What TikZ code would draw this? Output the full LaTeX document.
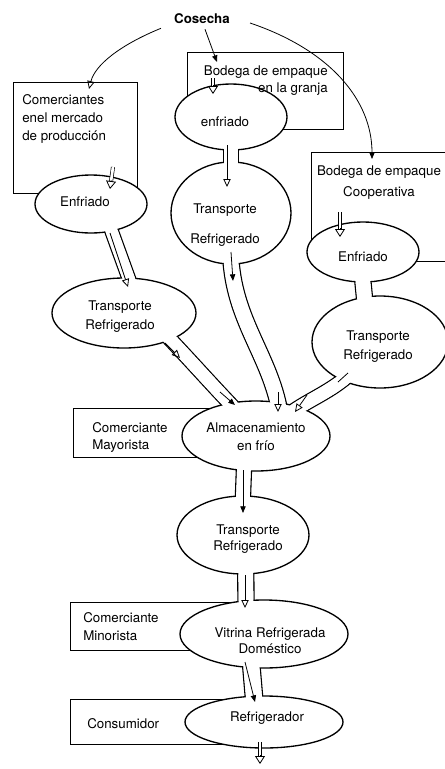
\documentclass[tikz,border=0pt]{standalone}
\usepackage{fontspec}
\setmainfont{TeX Gyre Heros}
\usetikzlibrary{arrows.meta,shapes.geometric,calc,fit,backgrounds}

\tikzset{
  box/.style={draw, rectangle, inner sep=0pt, line width=0.6pt},
  blob/.style 2 args={ellipse, draw, fill=white, line width=1pt,
    minimum width=#1*0.75pt, minimum height=#2*0.75pt, inner sep=0pt},
  txt/.style={inner sep=0pt, align=center, font=\fontsize{10}{13.5}\selectfont},
  pipe/.style={draw, line width=1pt, double=white, double distance=#1,
    shorten <=-8pt, shorten >=-8pt},
  gap/.style={draw=white, line width=#1, shorten <=-8pt, shorten >=-8pt},
  flow/.style={line width=0.6pt, -{Triangle[open,length=6pt,width=5.5pt]}},
  flowf/.style={line width=0.6pt, -{Triangle[length=5pt,width=4pt]}},
  dshaft/.style={double, double distance=2pt, line width=0.5pt, shorten >=5.5pt},
  dhead/.style={line width=0.6pt, -{Triangle[open,length=6pt,width=7.5pt]}},
}

% pipe between two blobs: walls behind, opening cut in front
\newcommand\drawpipe[2]{%
  \begin{scope}[on background layer]
    \draw[pipe=#1] #2;
  \end{scope}
  \draw[gap=#1] #2;
}

% hollow arrow: double shaft and open head
\newcommand\dblarrow[2]{%
  \draw[dshaft] (#1) -- (#2);
  \draw[dhead] ($(#2)!6.5pt!(#1)$) -- (#2);
}

\begin{document}
\begin{tikzpicture}[x=0.75pt, y=-0.75pt]
    \useasboundingbox (0,0) rectangle (445,769);
    \clip (0,0) rectangle (445,769);

    % Harvest
    \node[txt, font=\bfseries] (cos) at (202,19) {Cosecha};

    % Boxes of the traders
    \node[box, fit={(13,82) (137,193)}] (com) {};
    \node[box, fit={(187,52) (343,129)}] (bodA) {};
    \node[box, fit={(311,152) (470,261)}] (bodB) {};
    \node[box, fit={(73,408) (240,457)}] (may) {};
    \node[box, fit={(70,602) (250,650)}] (mino) {};
    \node[box, fit={(70,699) (250,744)}] (cons) {};

    % Cold chain blobs
    \node[blob={112}{58}] (enfA) at (91,204) {};
    \node[blob={112}{66}] (enfB) at (231,117) {};
    \node[blob={120}{102}] (trB) at (231,213) {};
    \node[blob={112}{60}] (enfC) at (363,252) {};
    \node[blob={136}{92}] (trC) at (380,342) {};
    \node[blob={144}{70}] (trA) at (124,313) {};
    \node[blob={148}{70}] (alm) at (256,436) {};
    \node[blob={132}{78}] (trD) at (243,535) {};
    \node[blob={168}{68}] (vit) at (264,634) {};
    \node[blob={158}{52}] (refr) at (264,722) {};

    % Pipes
    \drawpipe{9pt}{(enfA.-53) -- (trA.83)}
    \drawpipe{10.3pt}{(enfB.south) -- (trB.north)}
    \drawpipe{11pt}{(trB.south) .. controls (233,320) and (270,355) .. (alm.57)}
    \drawpipe{9.6pt}{(trA.-30) .. controls (190,360) and (212,385) .. (alm.129)}
    \drawpipe{9.6pt}{(trC.-134) .. controls (330,392) and (312,398) .. (alm.34)}
    \drawpipe{11pt}{(enfC.south) -- (trC.109)}
    \drawpipe{10.3pt}{(alm.-109) -- (trD.north)}
    \drawpipe{11pt}{(trD.-86) -- (vit.118)}
    \drawpipe{12pt}{(vit.-110) -- (refr.111)}

    % From the harvest
    \draw[flow] ($(cos.south west)+(-13,4)$) .. controls (120,45) and (95,65) .. (89,89);
    \draw[flowf] ($(cos.south)+(3,5)$) -- (217,62);
    \draw[flowf] ($(cos.east)+(20,4)$) .. controls (330,50) and (372,100) .. (372,159);

    % Into the first cooling, and out of the refrigerator
    \dblarrow{113,167}{110,189}
    \dblarrow{213,78}{213,94}
    \dblarrow{340,212}{340,237}
    \dblarrow{260,742}{260,764}

    % Flow inside the pipes
    \draw[flow] (110,233) -- (128,287);
    \draw[flow] (227,145) -- (227,187);
    \draw[flowf] (231,252) -- (233,281);
    \draw[flow] (278,392) -- (278,412);
    \draw[flow] (165,343) -- (180,358);
    \draw[flowf] (220,392) -- (235,405);
    \draw[line width=0.6pt] (348,373) -- (338,382);
    \draw[flow] (307,395) -- (295,412);
    \draw[flowf] (243,470) -- (243,513);
    \draw[flow] (245,575) -- (245,608);
    \draw[flowf] (245,662) -- (255,702);

    % Labels
    \node[txt, anchor=west, align=left] (com-t) at (22,119) {Comerciantes\\enel mercado\\de producción};
    \node[txt, anchor=east, align=right, font=\fontsize{10}{12.75}\selectfont] (bodA-t) at (328,81) {Bodega de empaque\\en la granja};
    \node[txt, font=\fontsize{10}{15.75}\selectfont] (bodB-t) at (379,183) {Bodega de empaque\\Cooperativa};
    \node[txt, anchor=west, align=left, font=\fontsize{10}{12.75}\selectfont] (may-t) at (92,437) {Comerciante\\Mayorista};
    \node[txt, anchor=west, align=left] (mino-t) at (83,627) {Comerciante\\Minorista};
    \node[txt, anchor=west] (cons-t) at (87,724) {Consumidor};

    \node[txt] (enfA-t) at ($(enfA)+(-6,-2)$) {Enfriado};
    \node[txt] (enfB-t) at ($(enfB)+(-6,5)$) {enfriado};
    \node[txt, font=\fontsize{10}{22.5}\selectfont] (trB-t) at ($(trB)+(-6,12)$) {Transporte\\Refrigerado};
    \node[txt] (enfC-t) at ($(enfC)+(0,5)$) {Enfriado};
    \node[txt, font=\fontsize{10}{14.25}\selectfont] (trC-t) at ($(trC)+(-2,5)$) {Transporte\\Refrigerado};
    \node[txt, font=\fontsize{10}{14.25}\selectfont] (trA-t) at ($(trA)+(-4,4)$) {Transporte\\Refrigerado};
    \node[txt] (alm-t) at ($(alm)+(0,1)$) {Almacenamiento\\en frío};
    \node[txt, font=\fontsize{10}{12}\selectfont] (trD-t) at ($(trD)+(5,4)$) {Transporte\\Refrigerado};
    \node[txt, font=\fontsize{10}{12}\selectfont] (vit-t) at ($(vit)+(6,7)$) {Vitrina Refrigerada\\Doméstico};
    \node[txt] (refr-t) at ($(refr)+(3,-4)$) {Refrigerador};
\end{tikzpicture}
\end{document}
